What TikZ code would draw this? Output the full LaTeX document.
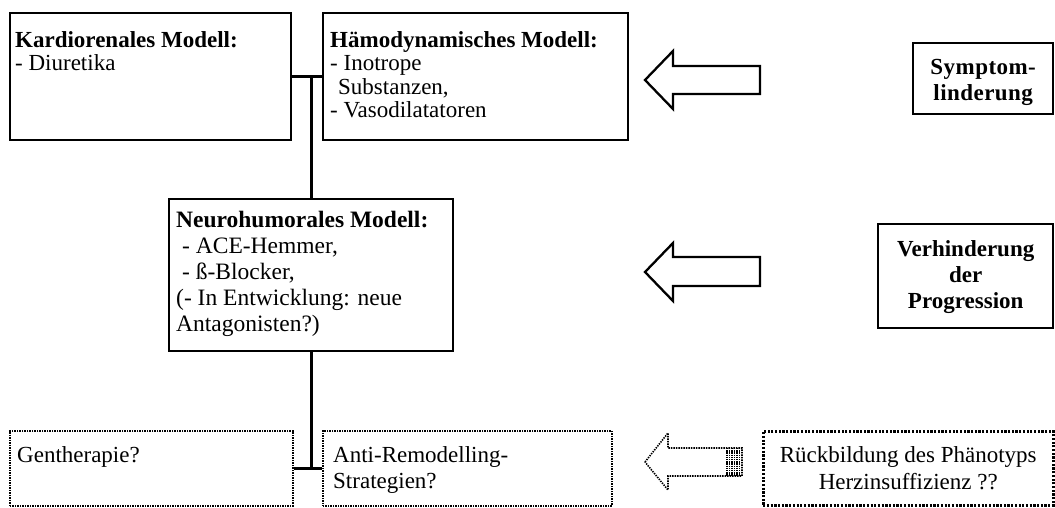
\documentclass[tikz,border=0pt]{standalone}
\usepackage{fontspec}
\setmainfont{Liberation Serif}
\begin{document}
\begin{tikzpicture}[x=1pt,y=-1pt,
  solidbox/.style={draw, line width=2.4pt, inner sep=0pt, anchor=north west},
  dotbox/.style={draw, line width=1.6pt, dash pattern=on 1.4pt off 1.1pt, inner sep=0pt, anchor=north west},
  heavydot/.style={draw, line width=2.5pt, dash pattern=on 2.2pt off 1.5pt, inner sep=0pt, anchor=north west},
  txt/.style={inner sep=0pt, align=left, anchor=north west, font=\fontsize{23}{23.5}\selectfont},
  ctxt/.style={inner sep=0pt, align=center, font=\fontsize{23}{26}\selectfont\bfseries},
  link/.style={line width=2.6pt},
  bigarrow/.style={draw, line width=2.3pt, line join=miter},
  dotarrow/.style={draw, line width=1.6pt, dash pattern=on 1.4pt off 1.1pt},
  hatch/.style={line width=1.4pt, dash pattern=on 1.3pt off 0.9pt}]
\useasboundingbox (0,0) rectangle (1055,507);

% boxes
\node[solidbox, minimum width=281pt, minimum height=127pt] (kard) at (9,12) {};
\node[solidbox, minimum width=305pt, minimum height=127pt] (hamo) at (322,12) {};
\node[solidbox, minimum width=284pt, minimum height=152pt] (neuro) at (168,198) {};
\node[solidbox, minimum width=140pt, minimum height=71pt] (sympt) at (912,42) {};
\node[solidbox, minimum width=175pt, minimum height=104pt] (verh) at (877,223) {};
\node[dotbox, minimum width=283pt, minimum height=75pt] (gen) at (9,430) {};
\node[dotbox, minimum width=289pt, minimum height=75pt] (anti) at (322,430) {};
\node[heavydot, minimum width=290pt, minimum height=74pt] (rueck) at (762,430) {};

% texts
\node[txt] (kardT) at (15,31) {\textbf{Kardiorenales Modell:}\\- Diuretika};
\node[txt] (hamoT) at (330,31) {\textbf{Hämodynamisches Modell:}\\- Inotrope\\\hspace*{8pt}Substanzen,\\- Vasodilatatoren};
\node[txt, font=\fontsize{23.5}{26}\selectfont] (neuroT) at (176,211) {\textbf{Neurohumorales Modell:}\\\hspace*{6pt}- ACE-Hemmer,\\\hspace*{6pt}- ß-Blocker,\\(- In Entwicklung: neue\\Antagonisten?)};
\node[ctxt, font=\fontsize{23}{26}\selectfont\bfseries\addfontfeature{LetterSpace=2}] (symptT) at ([yshift=-4pt]sympt.center) {Symptom-\\linderung};
\node[ctxt] (verhT) at ([yshift=-1pt]verh.center) {Verhinderung\\der\\Progression};
\node[txt] (genT) at (17,446) {Gentherapie?};
\node[txt, font=\fontsize{23}{26.5}\selectfont] (antiT) at (333,446) {Anti-Remodelling-\\Strategien?};
\node[ctxt, font=\fontsize{23}{27}\selectfont] (rueckT) at (rueck.center) {Rückbildung des Phänotyps\\Herzinsuffizienz ??};

% connectors
\draw[link] (kard.east) -- (hamo.west);
\draw[link] (kard.east -| neuro.north) -- (neuro.north);
\draw[link] (neuro.south) -- (neuro.south |- gen.east);
\draw[link] (gen.east) -- (anti.west);

% block arrows
\draw[bigarrow] (645,80) -- (673,51) -- (673,66) -- (760,66) -- (760,94) -- (673,94) -- (673,109) -- cycle;
\draw[bigarrow] (645,272) -- (673,243) -- (673,257) -- (760,257) -- (760,286) -- (673,286) -- (673,301) -- cycle;
\draw[dotarrow] (645,462) -- (668,433) -- (668,448) -- (742,448) -- (742,476) -- (668,476) -- (668,490) -- cycle;
\foreach \hx in {727,729.5,...,740} \draw[hatch] (\hx,448) -- (\hx,476);
\end{tikzpicture}
\end{document}
